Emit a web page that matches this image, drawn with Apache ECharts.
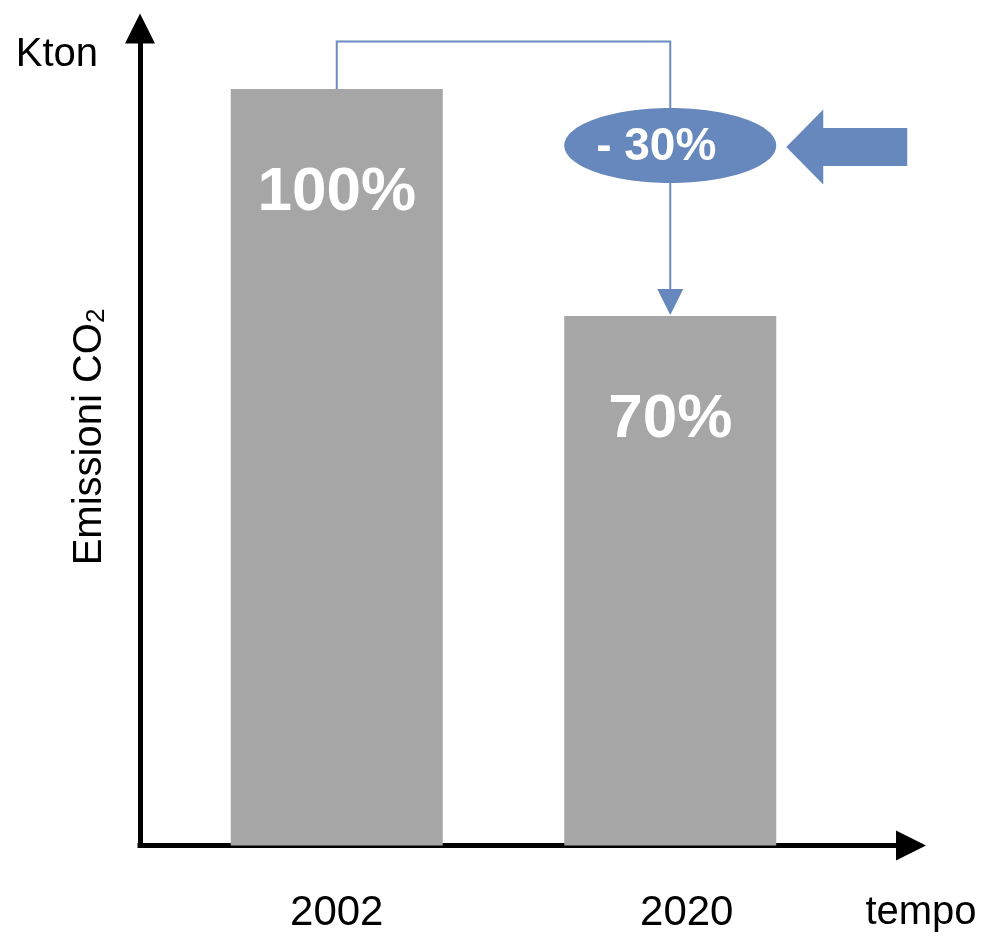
<!DOCTYPE html>
<html>
<head>
<meta charset="utf-8">
<script src="https://cdn.jsdelivr.net/npm/echarts@6/dist/echarts.min.js"></script>
<style>html,body{margin:0;padding:0;background:#fff}#chart{width:990px;height:936px}</style>
</head>
<body>
<div id="chart"></div>
<script>
const categories = ['2002', '2020'];
const emissions = [100, 70];
const yUnitName = 'Kton';
const xAxisName = 'tempo';
const measureName = 'Emissioni CO';
const measureSub = '2';

const FONT = 'Liberation Sans, Arial, Helvetica, sans-serif';
const BLUE = '#6788bc';
const BLUE_LINE = '#6b8cc2';
const GRAY = '#a6a6a6';

function renderAnnotation(params, api) {
  const a = api.coord([0, emissions[0]]);
  const b = api.coord([1, emissions[1]]);
  const rise = 47.5;
  const topY = a[1] - rise;
  const cx = b[0];
  const cy = a[1] + 56.5;
  const rx = 106, ry = 37.5;
  const headH = 27, headW = 13;
  const change = Math.round((emissions[1] - emissions[0]) / emissions[0] * 100);
  const txt = (change < 0 ? '- ' : '+ ') + Math.abs(change) + '%';
  const tipX = cx + rx + 10, tipY = cy + 1.5;
  const arrow = [
    [tipX, tipY], [tipX + 37, tipY - 37.5], [tipX + 37, tipY - 19],
    [tipX + 121, tipY - 19], [tipX + 121, tipY + 19], [tipX + 37, tipY + 19],
    [tipX + 37, tipY + 37.5]
  ];
  return {
    type: 'group',
    children: [
      { type: 'polyline', shape: { points: [[a[0], a[1]], [a[0], topY], [cx, topY], [cx, b[1] - headH]] },
        style: { stroke: BLUE_LINE, lineWidth: 2, fill: 'none' } },
      { type: 'polygon', shape: { points: [[cx - headW, b[1] - headH], [cx + headW, b[1] - headH], [cx, b[1] - 1]] },
        style: { fill: BLUE } },
      { type: 'ellipse', shape: { cx: cx, cy: cy, rx: rx, ry: ry }, style: { fill: BLUE } },
      { type: 'text', x: cx - 14, y: cy + 1.5,
        style: { text: txt, fill: '#ffffff', fontSize: 46, fontWeight: 'bold', fontFamily: FONT, align: 'center', verticalAlign: 'middle' } },
      { type: 'polygon', shape: { points: arrow }, style: { fill: BLUE } }
    ]
  };
}

const chart = echarts.init(document.getElementById('chart'), null, { renderer: 'canvas' });
chart.setOption({
  animation: false,
  backgroundColor: '#ffffff',
  grid: [
    { left: 170, width: 667, top: 89, bottom: 90.5 },
    { left: 140, right: 79, top: 28.5, bottom: 90.5 }
  ],
  xAxis: [
    {
      gridIndex: 0, type: 'category', data: categories,
      axisLine: { show: false }, axisTick: { show: false },
      axisLabel: {
        margin: 47,
        formatter: function (v, i) { return i === 1 ? '{s|' + v + '}' : '{n|' + v + '}'; },
        rich: {
          n: { fontSize: 42, fontFamily: FONT, color: '#000' },
          s: { fontSize: 42, fontFamily: FONT, color: '#000', padding: [0, 0, 0, 33] }
        }
      }
    },
    {
      gridIndex: 1, type: 'value', min: 0, max: 1,
      axisLine: { show: true, symbol: ['none', 'triangle'], symbolSize: [30, 30],
        lineStyle: { color: '#000', width: 5, cap: 'square' } },
      axisTick: { show: false }, axisLabel: { show: false }, splitLine: { show: false },
      name: xAxisName, nameLocation: 'end', nameGap: 10,
      nameTextStyle: { fontSize: 40, fontFamily: FONT, color: '#000', align: 'center', verticalAlign: 'top', padding: [47, 0, 0, 0] }
    }
  ],
  yAxis: [
    {
      gridIndex: 0, type: 'value', min: 0, max: 100,
      axisLine: { show: false }, axisTick: { show: false }, axisLabel: { show: false }, splitLine: { show: false },
      name: yUnitName, nameLocation: 'end', nameGap: 34,
      nameTextStyle: { fontSize: 40, fontFamily: FONT, color: '#000', align: 'right', verticalAlign: 'middle', padding: [0, 72, 0, 0] }
    },
    {
      gridIndex: 1, type: 'value', min: 0, max: 1,
      axisLine: { show: true, symbol: ['none', 'triangle'], symbolSize: [30, 30],
        lineStyle: { color: '#000', width: 5, cap: 'square' } },
      axisTick: { show: false }, axisLabel: { show: false }, splitLine: { show: false },
      name: '{a|' + measureName + '}{s|' + measureSub + '}', nameLocation: 'middle', nameRotate: 90, nameGap: 30,
      nameTextStyle: {
        rich: {
          a: { fontSize: 40, fontFamily: FONT, color: '#000', lineHeight: 40 },
          s: { fontSize: 26, fontFamily: FONT, color: '#000', lineHeight: 20, verticalAlign: 'bottom' }
        }
      }
    }
  ],
  series: [
    {
      type: 'bar', xAxisIndex: 0, yAxisIndex: 0, data: emissions, barWidth: 212,
      itemStyle: { color: GRAY },
      label: { show: true, position: 'insideTop', distance: 73, formatter: '{c}%',
        color: '#ffffff', fontSize: 62, fontWeight: 'bold', fontFamily: FONT }
    },
    {
      type: 'custom', xAxisIndex: 0, yAxisIndex: 0, coordinateSystem: 'cartesian2d',
      data: [[0, emissions[0]]], renderItem: renderAnnotation, z: 5, silent: true
    }
  ]
});
</script>
</body>
</html>
